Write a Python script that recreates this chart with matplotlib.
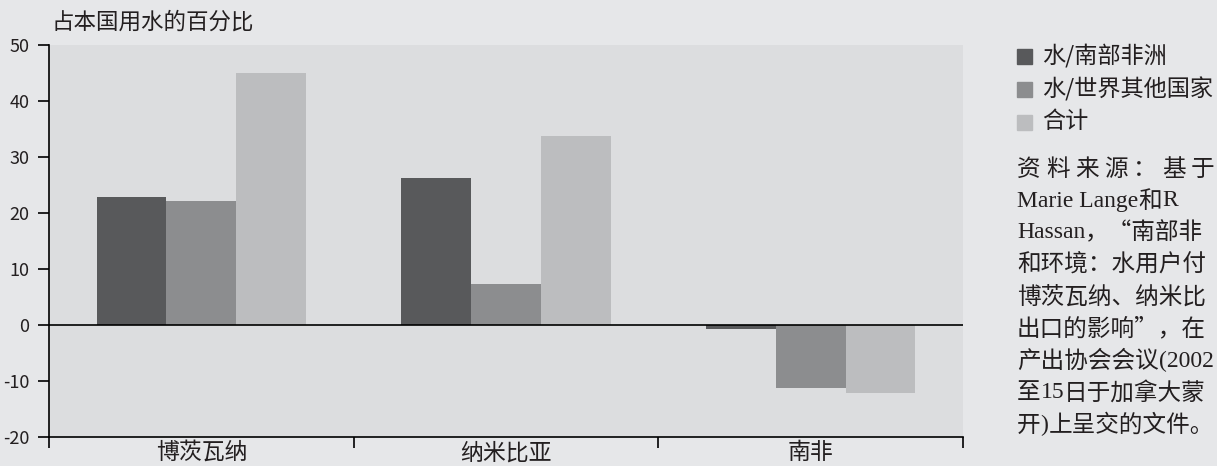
import matplotlib
matplotlib.use("Agg")
import matplotlib.pyplot as plt
from matplotlib import font_manager, ft2font
from matplotlib.patches import Rectangle
import numpy as np

plt.rcParams['font.family'] = ['Noto Sans CJK SC', 'DejaVu Sans']

categories = ["博茨瓦纳", "纳米比亚", "南非"]
series_names = ["水/南部非洲", "水/世界其他国家", "合计"]
water_southern_africa = [22.9, 26.3, -0.8]
water_rest_of_world = [22.1, 7.3, -11.2]
total = [45.0, 33.8, -12.1]
y_ticks = [-20, -10, 0, 10, 20, 30, 40, 50]

title = "占本国用水的百分比"
source_heading = "资料来源：基于"
source_lines = [
    "Marie Lange和R",
    "Hassan，“南部非",
    "和环境：水用户付",
    "博茨瓦纳、纳米比",
    "出口的影响”，在",
    "产出协会会议(2002",
    "至15日于加拿大蒙",
    "开)上呈交的文件。",
]

colors = ["#58595b", "#8c8d8f", "#bcbdbf"]
fig_bg = "#e6e7e9"
ax_bg = "#dcdddf"
ink = "#231f20"

W, H, DPI = 1217, 466, 100
fig = plt.figure(figsize=(W / DPI, H / DPI), dpi=DPI, facecolor=fig_bg)
ax = fig.add_axes([49 / W, 29 / H, 914 / W, 392 / H])
ax.set_facecolor(ax_bg)

x = np.arange(len(categories))
w = 0.229
for i, (vals, c, name) in enumerate(zip([water_southern_africa, water_rest_of_world, total], colors, series_names)):
    ax.bar(x + (i - 1) * w, vals, width=w, color=c, label=name, zorder=2)

ax.axhline(0, color="black", lw=1.2, zorder=3)
ax.set_xlim(-0.5, len(categories) - 0.5)
ax.set_ylim(-20, 50)
ax.set_yticks(y_ticks)
ax.set_yticklabels([str(v) for v in y_ticks], fontsize=13, color=ink)
ax.set_xticks(x)
ax.set_xticklabels(categories, fontsize=16.5, color=ink)
ax.tick_params(axis="x", which="major", length=0, pad=3)
ax.set_xticks(np.arange(-0.5, len(categories), 1.0), minor=True)
ax.tick_params(axis="x", which="minor", length=8, width=1.2, direction="out")
ax.tick_params(axis="y", length=8, width=1.2, direction="out", pad=6)

for s in ["top", "right"]:
    ax.spines[s].set_visible(False)
for s in ["left", "bottom"]:
    ax.spines[s].set_linewidth(1.2)


def px(xp, yp):
    """Pixel position (from top-left) to figure fraction."""
    return xp / W, 1 - yp / H


fig.text(*px(52, 22), title, fontsize=16.2, va="center", ha="left", color=ink)

# Legend: filled squares with labels
for i, (name, c) in enumerate(zip(series_names, colors)):
    yc = 56 + 33 * i
    fig.add_artist(Rectangle(px(1017, yc + 7.5), 15 / W, 15 / H,
                             transform=fig.transFigure, color=c))
    fig.text(*px(1042, yc), name, fontsize=16.7, va="center", ha="left", color=ink)

# Source note: Latin runs in a serif face, CJK runs in the CJK face
SRC_SIZE = 17.0
serif_family = "Liberation Serif"
cjk_family = "Noto Sans CJK SC"
_fonts = {}


def _advance(text, family):
    path = font_manager.findfont(font_manager.FontProperties(family=family))
    if path not in _fonts:
        f = ft2font.FT2Font(path)
        f.set_size(SRC_SIZE, DPI)
        _fonts[path] = f
    f = _fonts[path]
    return sum(f.load_char(ord(ch)).linearHoriAdvance / 65536 for ch in text)


def _runs(line):
    runs, cur, cur_latin = [], "", None
    for ch in line:
        latin = ord(ch) < 128
        if cur and latin != cur_latin:
            runs.append((cur, cur_latin))
            cur = ""
        cur += ch
        cur_latin = latin
    if cur:
        runs.append((cur, cur_latin))
    return runs


def draw_line(x0, yc, line):
    xc = x0
    for text, latin in _runs(line):
        family = serif_family if latin else cjk_family
        fig.text(*px(xc, yc), text, fontsize=SRC_SIZE, va="center", ha="left",
                 family=family, color=ink)
        xc += _advance(text, family)


line_y0, line_step = 169, 32
for k, ch in enumerate(source_heading):
    fig.text(*px(1017 + 29.0 * k, line_y0), ch, fontsize=SRC_SIZE, va="center",
             ha="left", color=ink)
for j, line in enumerate(source_lines):
    draw_line(1017, line_y0 + line_step * (j + 1), line)

fig.savefig("out.png", dpi=DPI, facecolor=fig_bg)
